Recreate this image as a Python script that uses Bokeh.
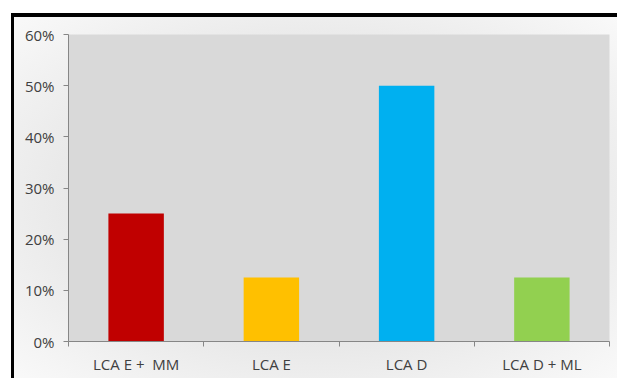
from bokeh.plotting import figure
from bokeh.models import FixedTicker, NumeralTickFormatter, Range1d
from bokeh.embed import file_html
from bokeh.resources import INLINE

# Share of cases per diagnostic group
categories = ["LCA E +\u00a0 MM", "LCA E", "LCA D", "LCA D + ML"]
shares = [0.25, 0.125, 0.50, 0.125]
colors = ["#C00000", "#FFC000", "#00B0F0", "#92D050"]
y_ticks = [0.0, 0.1, 0.2, 0.3, 0.4, 0.5, 0.6]

xs = [i + 0.5 for i in range(len(categories))]

p = figure(
    width=617, height=378,
    output_backend="svg", toolbar_location=None,
    x_range=Range1d(0, len(categories)), y_range=Range1d(0, 0.6),
    min_border_left=68, min_border_right=8,
    min_border_top=34, min_border_bottom=37,
)

# Framed card with a soft gray radial gradient behind the chart
p.styles = {
    "background": (
        "linear-gradient(#000,#000) 11px 13px / 606px 4px no-repeat, "
        "linear-gradient(#000,#000) 11px 13px / 3px 365px no-repeat, "
        "radial-gradient(ellipse at 50% 50%, #d2d2d2 0%, #f9f9f9 100%) 14px 17px / 603px 361px no-repeat, "
        "#ffffff"
    )
}
p.border_fill_alpha = 0
p.background_fill_color = "#D9D9D9"
p.outline_line_color = None
p.grid.visible = False

p.vbar(x=xs, top=shares, width=0.41, bottom=0, color=colors, line_color=None)

axis_color = "#868686"
text_color = "#404040"
font = "Open Sans"
font_size = "15px"

# y axis
p.yaxis.ticker = FixedTicker(ticks=y_ticks, minor_ticks=[])
p.yaxis.formatter = NumeralTickFormatter(format="0%")
p.yaxis.axis_line_color = axis_color
p.yaxis.major_tick_line_color = axis_color
p.yaxis.major_tick_in = 0
p.yaxis.major_tick_out = 5
p.yaxis.major_label_standoff = 9
p.yaxis.major_label_text_font = font
p.yaxis.major_label_text_font_size = font_size
p.yaxis.major_label_text_color = text_color

# x axis: labels at bar centres, tick marks between categories
p.xaxis.ticker = FixedTicker(ticks=xs, minor_ticks=list(range(len(categories) + 1)))
p.xaxis.major_label_overrides = {x: c for x, c in zip(xs, categories)}
p.xaxis.axis_line_color = axis_color
p.xaxis.major_tick_line_color = None
p.xaxis.major_tick_in = 0
p.xaxis.major_tick_out = 0
p.xaxis.minor_tick_line_color = axis_color
p.xaxis.minor_tick_in = 0
p.xaxis.minor_tick_out = 5
p.xaxis.major_label_standoff = 7
p.xaxis.major_label_text_font = font
p.xaxis.major_label_text_font_size = font_size
p.xaxis.major_label_text_color = text_color

open("out.html", "w").write(file_html(p, INLINE))
